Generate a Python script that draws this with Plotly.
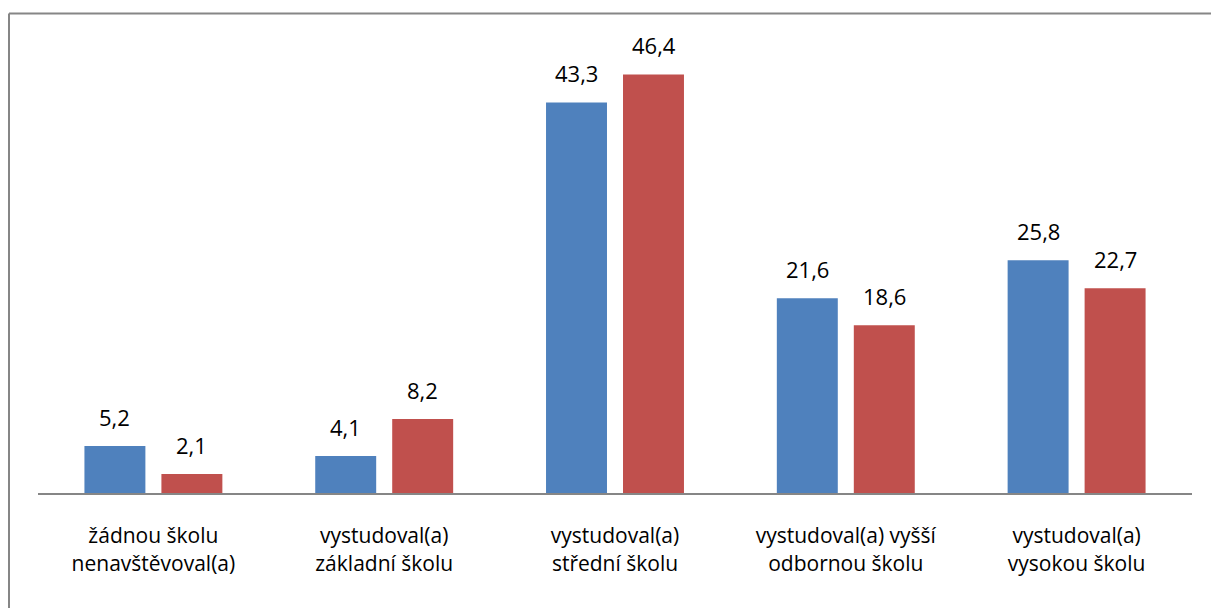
import plotly.graph_objects as go

categories = ["žádnou školu<br>nenavštěvoval(a)", "vystudoval(a)<br>základní školu",
              "vystudoval(a)<br>střední školu", "vystudoval(a) vyšší<br>odbornou školu",
              "vystudoval(a)<br>vysokou školu"]
series_a = [5.2, 4.1, 43.3, 21.6, 25.8]
series_b = [2.1, 8.2, 46.4, 18.6, 22.7]

W, H = 1211, 608
L, R, T, B = 38, 19, 41.5, 115
pw, ph = W - L - R, H - T - B
font = "Open Sans, Calibri, Carlito, sans-serif"

fig = go.Figure()
fig.add_trace(go.Bar(x=categories, y=series_a, marker=dict(color="#4F81BD", line=dict(width=0)), name="A"))
fig.add_trace(go.Bar(x=categories, y=series_b, marker=dict(color="#C0504D", line=dict(width=0)), name="B"))

ann = []
for vals, shift in ((series_a, -38.5), (series_b, 38.5)):
    for c, v in zip(categories, vals):
        ann.append(dict(x=c, y=v, xref="x", yref="y", text=f"{v:.1f}".replace(".", ","),
                        showarrow=False, xshift=shift, yanchor="bottom", yshift=12,
                        font=dict(family=font, size=22, color="#000000")))

def px_x(p):
    return (p - L) / pw

def px_y(p):
    return (H - B - p) / ph

shapes = [
    dict(type="line", xref="paper", yref="paper", x0=px_x(9), x1=px_x(9), y0=px_y(13), y1=px_y(620),
         line=dict(color="#868686", width=2)),
    dict(type="line", xref="paper", yref="paper", x0=px_x(9), x1=px_x(1230), y0=px_y(13), y1=px_y(13),
         line=dict(color="#868686", width=2)),
]

fig.update_layout(
    width=W, height=H, margin=dict(l=L, r=R, t=T, b=B, pad=0),
    paper_bgcolor="white", plot_bgcolor="white",
    barmode="group", bargap=0.333, bargroupgap=0.208,
    showlegend=False, annotations=ann, shapes=shapes,
    font=dict(family=font, size=21, color="#000000"),
    xaxis=dict(showline=True, linecolor="#868686", linewidth=2, ticks="", showgrid=False,
               tickfont=dict(family=font, size=21, color="#000000"), ticklabelstandoff=23),
    yaxis=dict(range=[0, 50], visible=False, showgrid=False, zeroline=False),
)
fig.write_html("out.html", config={"displayModeBar": False},
               post_script="document.body.style.margin='0';document.body.style.overflow='hidden';")
